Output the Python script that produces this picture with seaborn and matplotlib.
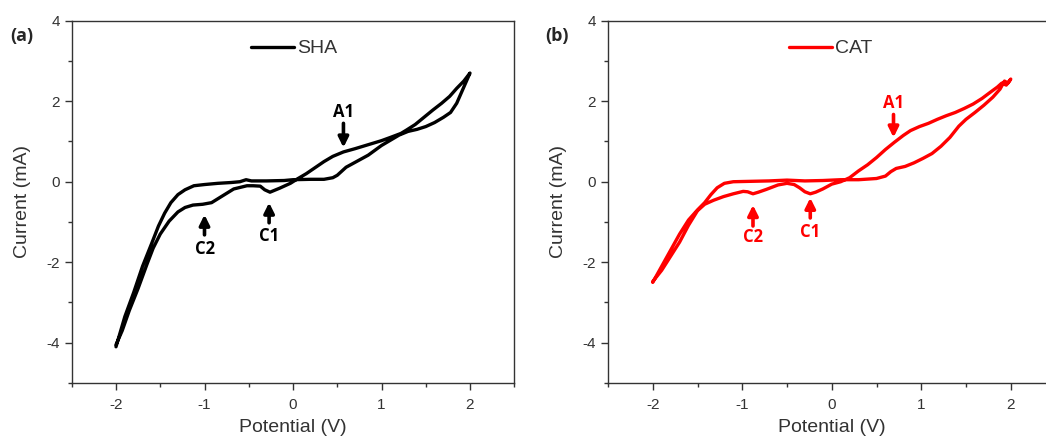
import numpy as np
import pandas as pd
import matplotlib
matplotlib.use("Agg")
import matplotlib.pyplot as plt
import seaborn as sns
from matplotlib.ticker import MultipleLocator

# ---------------- data ----------------
sha_v = [-2.0, -1.9, -1.8, -1.7, -1.6, -1.52, -1.45, -1.38, -1.3, -1.22, -1.12, -1.0, -0.85, -0.7,
         -0.6, -0.53, -0.47, -0.3, -0.1, 0.0, 0.2, 0.35, 0.45, 0.5, 0.55, 0.6, 0.7, 0.85, 1.0, 1.1,
         1.2, 1.3, 1.4, 1.5, 1.6, 1.7, 1.78, 1.85, 1.92, 1.97, 2.0,
         1.93, 1.85, 1.77, 1.68, 1.58, 1.48, 1.38, 1.28, 1.22, 1.1, 1.0, 0.85, 0.7, 0.57, 0.45,
         0.35, 0.25, 0.15, 0.05, -0.03, -0.15, -0.26, -0.32, -0.37, -0.45, -0.52, -0.67, -0.81,
         -0.92, -1.02, -1.13, -1.22, -1.3, -1.4, -1.5, -1.58, -1.65, -1.75, -1.85, -1.93, -2.0]
sha_i = [-4.1, -3.35, -2.75, -2.1, -1.55, -1.1, -0.78, -0.52, -0.32, -0.2, -0.1, -0.07, -0.04, -0.02,
         0.0, 0.05, 0.02, 0.02, 0.03, 0.05, 0.06, 0.06, 0.1, 0.16, 0.26, 0.36, 0.48, 0.66, 0.9, 1.03,
         1.16, 1.25, 1.3, 1.37, 1.47, 1.6, 1.72, 1.95, 2.3, 2.55, 2.7,
         2.5, 2.32, 2.12, 1.95, 1.78, 1.6, 1.42, 1.28, 1.2, 1.1, 1.02, 0.92, 0.82, 0.74, 0.63,
         0.5, 0.35, 0.2, 0.07, -0.04, -0.16, -0.26, -0.2, -0.11, -0.1, -0.1, -0.18, -0.37,
         -0.52, -0.56, -0.58, -0.64, -0.75, -0.98, -1.3, -1.65, -2.05, -2.65, -3.2, -3.7, -4.05]

cat_v = [-2.0, -1.9, -1.8, -1.7, -1.6, -1.5, -1.42, -1.35, -1.28, -1.2, -1.1, -0.9, -0.7, -0.5,
         -0.3, -0.1, 0.1, 0.3, 0.5, 0.6, 0.66, 0.72, 0.82, 0.92, 1.02, 1.12, 1.22, 1.32, 1.42, 1.5,
         1.6, 1.7, 1.8, 1.88, 1.93, 1.97, 2.0,
         1.95, 1.9, 1.85, 1.77, 1.68, 1.58, 1.48, 1.38, 1.28, 1.18, 1.08, 0.98, 0.88, 0.8, 0.7,
         0.6, 0.5, 0.4, 0.3, 0.2, 0.1, 0.0, -0.1, -0.18, -0.24, -0.3, -0.36, -0.42, -0.5, -0.6,
         -0.73, -0.82, -0.88, -0.94, -0.99, -1.1, -1.21, -1.32, -1.42, -1.5, -1.6, -1.7, -1.8,
         -1.9, -2.0]
cat_i = [-2.5, -2.1, -1.7, -1.3, -0.95, -0.7, -0.52, -0.32, -0.15, -0.04, 0.0, 0.01, 0.02, 0.04,
         0.02, 0.03, 0.05, 0.05, 0.08, 0.14, 0.25, 0.33, 0.38, 0.47, 0.58, 0.7, 0.88, 1.1, 1.38,
         1.55, 1.72, 1.9, 2.1, 2.3, 2.5, 2.45, 2.55,
         2.4, 2.45, 2.35, 2.22, 2.07, 1.93, 1.82, 1.72, 1.64, 1.55, 1.45, 1.37, 1.27, 1.15, 0.98,
         0.8, 0.6, 0.42, 0.27, 0.1, 0.0, -0.06, -0.18, -0.26, -0.3, -0.25, -0.15, -0.07, -0.04,
         -0.08, -0.19, -0.26, -0.3, -0.25, -0.24, -0.3, -0.37, -0.46, -0.56, -0.72, -1.08, -1.5,
         -1.85, -2.2, -2.48]

panel_labels = ["(a)", "(b)"]
series_names = ["SHA", "CAT"]
peak_labels = ["A1", "C1", "C2"]
# annotation anchors (V, I) for arrow head, arrow tail, label
sha_peaks = {"A1": ((0.57, 0.85), (0.57, 1.45), (0.57, 1.72)),
             "C1": ((-0.27, -0.52), (-0.27, -1.02), (-0.27, -1.36)),
             "C2": ((-1.0, -0.82), (-1.0, -1.32), (-1.0, -1.66))}
cat_peaks = {"A1": ((0.69, 1.1), (0.69, 1.67), (0.69, 1.96)),
             "C1": ((-0.24, -0.4), (-0.24, -0.9), (-0.24, -1.25)),
             "C2": ((-0.88, -0.58), (-0.88, -1.1), (-0.88, -1.38))}

# ---------------- figure ----------------
sns.set_style("ticks")
plt.rcParams["font.family"] = ["Liberation Sans", "DejaVu Sans"]

W, H = 1046, 438
fig = plt.figure(figsize=(W / 100, H / 100), dpi=100)
ax1 = fig.add_axes([71.75 / W, 1 - 383 / H, 442.5 / W, 362.3 / H])
ax2 = fig.add_axes([608 / W, 1 - 383 / H, 447.5 / W, 362.3 / H])

grey = "#333333"
configs = [
    (ax1, sha_v, sha_i, "black", series_names[0], sha_peaks, panel_labels[0], 22),
    (ax2, cat_v, cat_i, "#ff0000", series_names[1], cat_peaks, panel_labels[1], 557),
]

for ax, v, i, col, name, peaks, plab, plx in configs:
    df = pd.DataFrame({"Potential": v, "Current": i})
    sns.lineplot(data=df, x="Potential", y="Current", sort=False, estimator=None,
                 color=col, lw=2.4, label=name, ax=ax)
    ax.set_xlim(-2.5, 2.5)
    ax.set_ylim(-5, 4)
    ax.xaxis.set_major_locator(MultipleLocator(1))
    ax.xaxis.set_minor_locator(MultipleLocator(0.5))
    ax.yaxis.set_major_locator(MultipleLocator(2))
    ax.yaxis.set_minor_locator(MultipleLocator(1))
    ax.tick_params(which="major", direction="out", length=5, width=1, color=grey,
                   labelsize=11, labelcolor=grey)
    ax.tick_params(axis="x", which="major", pad=6)
    ax.tick_params(which="minor", direction="out", length=3, width=1, color=grey)
    ax.set_yticks([-4, -2, 0, 2, 4])
    ax.set_yticklabels(["-4", "-2", "0", "2", "4"])
    ax.set_xticks([-2, -1, 0, 1, 2])
    ax.set_xticklabels(["-2", "-1", "0", "1", "2"])
    for s in ax.spines.values():
        s.set_color(grey)
        s.set_linewidth(1)
    ax.set_xlabel("Potential (V)", fontsize=14, color=grey, labelpad=5)
    ax.set_ylabel("Current (mA)", fontsize=14, color=grey, labelpad=11)

    leg = ax.legend(loc="center left", bbox_to_anchor=(0.405, 0.923), frameon=False,
                    fontsize=14, handlelength=2.2, handletextpad=0.15,
                    borderpad=0, borderaxespad=0)
    for t in leg.get_texts():
        t.set_color(grey)

    for lab in peak_labels:
        head, tail, txt = peaks[lab]
        ax.annotate("", xy=head, xytext=tail,
                    arrowprops=dict(arrowstyle="-|>", color=col, lw=2.6,
                                    mutation_scale=15, shrinkA=0, shrinkB=0))
        ax.text(txt[0], txt[1], lab, ha="center", va="center", fontsize=12,
                fontweight="bold", color=col, family=["Open Sans", "DejaVu Sans"])

    fig.text(plx / W, 1 - 36 / H, plab, fontsize=13, fontweight="bold",
             ha="center", va="center", family=["Open Sans", "DejaVu Sans"])

fig.savefig("out.png", dpi=100)
